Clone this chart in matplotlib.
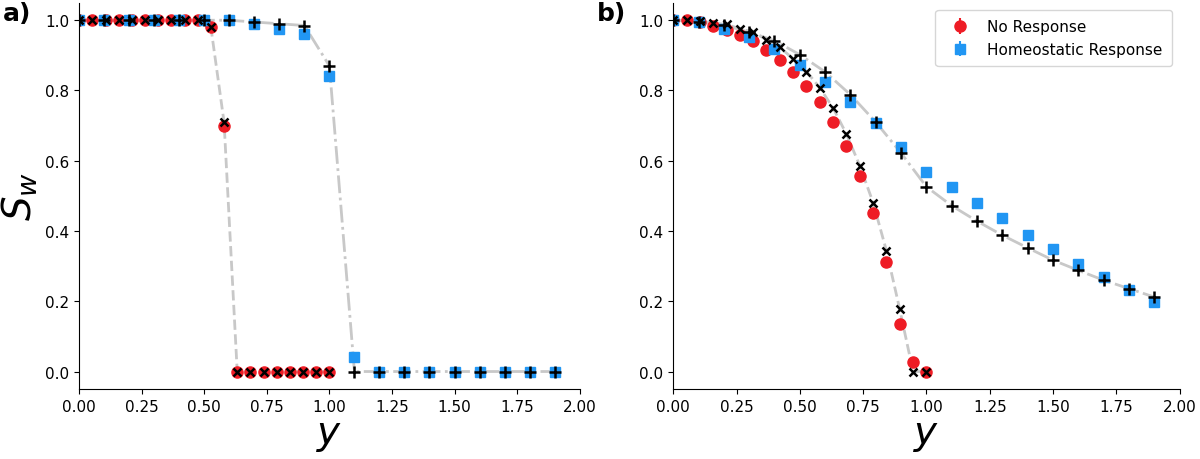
import numpy as np
import matplotlib
matplotlib.use('Agg')
import matplotlib.pyplot as plt

# x values
x_no = np.linspace(0, 1, 20)
x_ho = np.round(np.arange(0, 1.95, 0.1), 2)

# panel a data
a_no = [1, 1, 1, 1, 1, 1, 1, 1, 1, 1, 0.98, 0.70, 0, 0, 0, 0, 0, 0, 0, 0]
a_no_model = [1, 1, 1, 1, 1, 1, 1, 1, 1, 1, 0.98, 0.71, 0, 0, 0, 0, 0, 0, 0, 0]
a_ho = [1, 1, 1, 1, 1, 1, 1.0, 0.99, 0.975, 0.96, 0.84, 0.04, 0, 0, 0, 0, 0, 0, 0, 0]
a_ho_model = [1, 1, 1, 1, 1, 1, 1.0, 0.995, 0.99, 0.985, 0.87, 0, 0, 0, 0, 0, 0, 0, 0, 0]

# panel b data
b_no = [1.0, 1.0, 0.995, 0.985, 0.973, 0.957, 0.94, 0.914, 0.888, 0.853, 0.814,
        0.766, 0.71, 0.643, 0.557, 0.45, 0.312, 0.136, 0.027, 0.0]
b_no_model = [1.0, 1.0, 0.998, 0.992, 0.988, 0.976, 0.966, 0.945, 0.923, 0.89, 0.854,
              0.808, 0.75, 0.676, 0.586, 0.481, 0.344, 0.177, 0.0, 0.0]
b_ho = [1.0, 0.995, 0.976, 0.952, 0.919, 0.873, 0.824, 0.767, 0.707, 0.638, 0.569,
        0.524, 0.48, 0.436, 0.39, 0.348, 0.307, 0.269, 0.233, 0.198]
b_ho_model = [1.0, 0.995, 0.986, 0.966, 0.942, 0.902, 0.853, 0.788, 0.71, 0.622, 0.526,
              0.472, 0.428, 0.388, 0.352, 0.317, 0.288, 0.26, 0.236, 0.212]

red = '#ee1c25'
blue = '#2196f3'
gray = '#c8c8c8'

fig = plt.figure(figsize=(12, 4.6), dpi=100)
ax1 = fig.add_axes([0.066, 0.152, 0.417, 0.84])
ax2 = fig.add_axes([0.561, 0.152, 0.422, 0.84])

for ax, no, nom, ho, hom in [(ax1, a_no, a_no_model, a_ho, a_ho_model),
                             (ax2, b_no, b_no_model, b_ho, b_ho_model)]:
    ax.plot(x_no, nom, '--', color=gray, lw=2, zorder=1)
    ax.plot(x_ho, hom, '-.', color=gray, lw=2, zorder=1)
    ax.errorbar(x_no, no, yerr=0.005, fmt='o', color=red, ms=8, label='No Response', zorder=2)
    ax.errorbar(x_ho, ho, yerr=0.005, fmt='s', color=blue, ms=7, label='Homeostatic Response', zorder=2)
    ax.plot(x_no, nom, 'x', color='black', ms=6, mew=1.8, zorder=3)
    ax.plot(x_ho, hom, '+', color='black', ms=9, mew=1.8, zorder=3)
    ax.set_xlim(0, 2)
    ax.set_ylim(-0.05, 1.05)
    ax.set_xticks(np.arange(0, 2.01, 0.25))
    ax.set_xticklabels(['%.2f' % v for v in np.arange(0, 2.01, 0.25)])
    ax.set_yticks(np.arange(0, 1.01, 0.2))
    ax.tick_params(labelsize=11)
    ax.spines['top'].set_visible(False)
    ax.spines['right'].set_visible(False)
    ax.set_xlabel('$y$', fontsize=28, labelpad=1)

ax1.set_ylabel('$S_w$', fontsize=28)
ax2.legend(loc='upper right', fontsize=11, borderpad=0.6)
fig.text(0.002, 0.955, 'a)', fontsize=18, fontweight='bold')
fig.text(0.497, 0.955, 'b)', fontsize=18, fontweight='bold')

fig.savefig('out.png')
